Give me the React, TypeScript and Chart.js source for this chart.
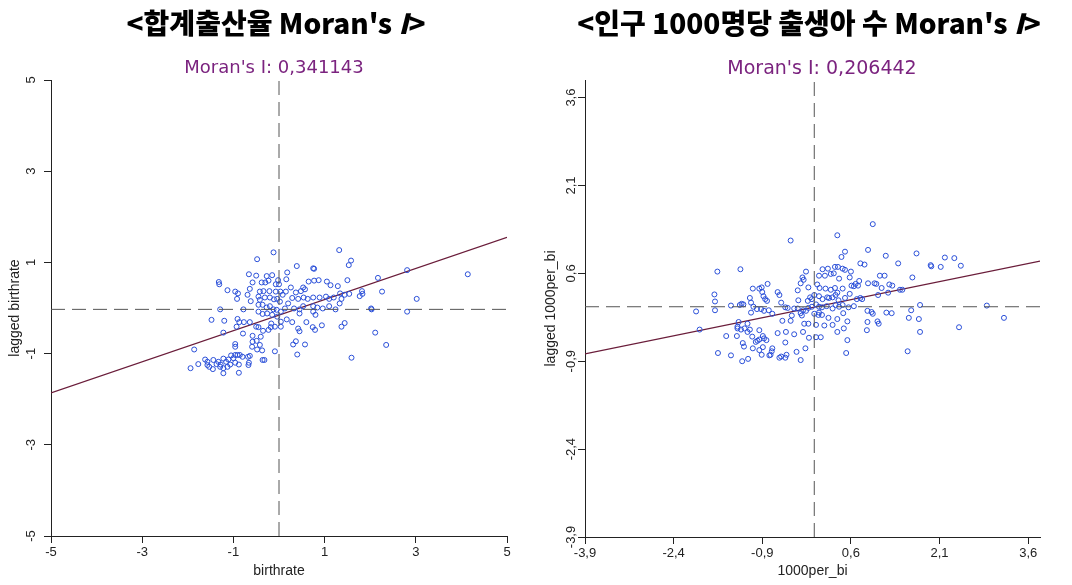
import React, { useEffect, useRef } from "react";
import { Chart, registerables } from "chart.js";
Chart.register(...registerables);

// ---------- Left panel: 합계출산율 ----------
const LEFT_TITLE = "<합계출산율 ";
const LEFT_MORAN = "Moran's I: 0,341143";
const LEFT_XLABEL = "birthrate";
const LEFT_YLABEL = "lagged birthrate";
const LEFT_TICKS = [-5, -3, -1, 1, 3, 5];
const LEFT_RANGE = [-5, 5];
const LEFT_X = [
  -0.12, 1.32, -0.48, 1.58, 1.53, 0.39, 0.75, 0.77, 0.18, -0.66,
  -0.5, -0.27, -0.15, 2.81, 4.14, 2.17, 0.16, -1.32, -1.31, -1.13,
  -0.96, -0.9, -0.64, -0.58, -0.38, -0.3, -0.23, -0.02, -0.07, 0.0,
  0.65, 0.77, 0.87, 1.05, 1.13, 1.29, 1.5, 0.53, 0.57, 0.48,
  0.37, 0.26, -0.42, -0.34, -0.21, -0.07, 0.03, 0.08, 0.15, -0.69,
  -0.62, -0.92, -0.45, -0.42, -0.31, -0.2, -0.11, -0.04, 0.02, 0.2,
  0.29, 0.42, 0.54, 0.63, 0.75, 0.89, 1.03, 1.1, 1.2, 1.34,
  1.37, 1.44, 1.54, 1.77, 1.82, 1.83, 2.26, 3.02, -1.29, -0.78,
  -0.45, -0.36, -0.27, -0.2, -0.12, -0.05, 0.04, 0.13, 0.33, 0.45,
  0.53, 0.75, 0.84, 0.96, 1.1, 1.24, 1.33, 2.02, 2.03, 2.81,
  -0.45, -0.36, -0.26, -0.15, -0.04, 0.45, 0.75, 0.8, -1.48, -1.2,
  -0.91, -0.87, -0.77, -0.64, -0.5, -0.45, -0.93, -1.22, -0.79, -0.58,
  -0.4, -0.35, -0.23, -0.18, -0.09, 0.04, 0.04, -0.17, 0.17, 0.29,
  0.42, 0.45, 0.6, 0.74, 0.79, 0.94, 1.37, 1.44, 2.11, 2.35,
  1.59, 0.4, 0.57, 0.37, 0.31, -0.09, -0.32, -0.36, -0.48, -0.37,
  -0.58, -0.49, -0.42, -0.96, -0.96, -1.86, -1.94, -1.77, -1.62, -1.57,
  -1.53, -1.45, -1.57, -1.37, -1.28, -1.22, -1.22, -1.16, -1.11, -1.05,
  -1.0, -0.96, -0.91, -0.86, -0.8, -0.68, -0.64, -0.66, -0.67, -0.88,
  -0.88, -0.96, -1.07, -1.13, -1.29, -1.33, -1.22, -1.44, -0.59,
];
const LEFT_Y = [
  1.22, 1.27, 1.07, 1.04, 0.94, 0.92, 0.87, 0.86, 0.78, 0.74,
  0.71, 0.7, 0.72, 0.83, 0.74, 0.66, 0.63, 0.57, 0.52, 0.39,
  0.36, 0.32, 0.42, 0.56, 0.56, 0.56, 0.6, 0.61, 0.52, 0.52,
  0.58, 0.6, 0.61, 0.58, 0.5, 0.48, 0.61, 0.45, 0.41, 0.37,
  0.34, 0.45, 0.36, 0.37, 0.37, 0.36, 0.36, 0.29, 0.36, 0.29,
  0.15, 0.2, 0.25, 0.18, 0.23, 0.23, 0.19, 0.2, 0.14, 0.1,
  0.22, 0.2, 0.23, 0.2, 0.23, 0.23, 0.25, 0.2, 0.23, 0.32,
  0.2, 0.29, 0.31, 0.26, 0.37, 0.31, 0.36, 0.2, -0.03, -0.03,
  0.07, 0.07, 0.01, 0.04, -0.03, -0.04, -0.08, -0.01, -0.01, -0.03,
  0.04, 0.04, 0.01, -0.01, 0.04, -0.03, 0.1, -0.01, -0.03, -0.08,
  -0.08, -0.13, -0.12, -0.15, -0.19, -0.12, -0.08, -0.15, -0.26, -0.28,
  -0.24, -0.31, -0.31, -0.31, -0.41, -0.42, -0.41, -0.54, -0.56, -0.61,
  -0.63, -0.5, -0.48, -0.42, -0.41, -0.41, -0.3, -0.34, -0.25, -0.31,
  -0.45, -0.51, -0.31, -0.42, -0.48, -0.38, -0.41, -0.33, -0.54, -0.81,
  -1.09, -1.02, -0.8, -0.73, -0.8, -0.95, -1.14, -1.14, -0.91, -0.93,
  -0.74, -0.72, -0.81, -0.79, -0.85, -0.91, -1.32, -1.23, -1.13, -1.18,
  -1.29, -1.34, -1.25, -1.23, -1.24, -1.32, -1.43, -1.18, -1.13, -1.04,
  -1.1, -1.03, -1.03, -1.03, -1.07, -1.07, -1.05, -1.2, -1.25, -1.42,
  -1.24, -1.2, -1.24, -1.29, -1.29, -1.18, -1.11, -1.14, -0.85,
];
const LEFT_REG = [{ x: -5, y: -1.86 }, { x: 5, y: 1.55 }];
const LEFT_VLINE_X = 0;
const LEFT_HLINE_Y = -0.03;

// ---------- Right panel: 인구 1000명당 출생아 수 ----------
const RIGHT_TITLE = "<인구 1000명당 출생아 수 ";
const RIGHT_MORAN = "Moran's I: 0,206442";
const RIGHT_XLABEL = "1000per_bi";
const RIGHT_YLABEL = "lagged 1000per_bi";
const RIGHT_TICKS = [-3.9, -2.4, -0.9, 0.6, 2.1, 3.6];
const RIGHT_XRANGE = [-3.9, 3.8];
const RIGHT_YRANGE = [-3.9, 3.9];
const RIGHT_X = [
  0.97, 0.37, -0.42, 0.5, 0.89, 1.71, 1.19, 0.44, 2.19, 2.35,
  -1.66, -1.27, 0.76, 0.83, 1.4, 1.95, 1.96, 2.12, 2.46, -0.16,
  -0.22, -0.2, -0.25, 0.12, 0.21, 0.33, 0.38, 0.46, 0.5, 0.6,
  0.06, 0.16, 0.26, 0.31, 0.4, 0.58, 1.64, 1.09, 1.17, 0.74,
  0.68, 0.61, 0.65, 0.72, 0.89, 1.0, 1.03, 1.12, 1.25, 1.3,
  1.43, 1.47, -0.81, -1.06, -0.95, -0.91, -0.9, -0.88, -0.85, -0.82,
  -0.64, -0.61, -0.3, -0.12, 0.03, 0.07, 0.17, 0.26, 0.33, 0.37,
  0.46, -0.02,
  -0.09, -0.06, -0.13, 0.06, 0.12, 0.2, 0.23,
  0.29, 0.34, 0.39, 0.58, 0.5, 0.7, 0.76, 0.79, 1.06, 1.23,
  -1.71, -1.7, -1.7, -2.02, -1.43, -1.28, -1.25, -1.22, -1.11, -1.09,
  -1.05, -0.99, -0.92, -0.87, -0.79, -0.73, -0.58, -0.51, -0.47, -0.36,
  -0.29, -0.3, -0.21, -0.16, -0.12, -0.06, 0.01, 0.06, 0.11, 0.19,
  0.29, 0.34, 0.4, 0.46, 0.56, 0.65, 1.77, 2.9, 3.19, 1.62,
  0.88, 0.95, 0.97, 1.2, 1.29, 1.58, 1.75, 1.77, 2.43, -1.09,
  -0.4, -0.25, -0.23, -0.02, 0.05, 0.11, 0.06, 0.22, 0.37, 0.47,
  -0.42, -0.56, -0.19, -0.12, 0.01, 0.15, 0.29, 0.37, 0.48, 0.54,
  0.88, 1.05, 1.07, 0.87, -1.96, -1.3, -1.32, -1.32, -1.26, -1.2,
  -1.15, -1.11, -1.15, -1.33, -1.51, -0.95, -0.89, -0.87, -1.07, -1.01,
  -0.98, -0.95, -0.83, -0.64, -0.5, -0.36, -0.21, -0.11, 0.01, 0.09,
  0.54, -1.23, -1.21, -1.06, -0.89, -0.73, -0.74, -0.76, -0.78, -0.91,
  -0.95, -0.51, -0.51, -0.61, -0.58, -0.49, -0.32, -0.17, -0.25, 0.52,
  1.56, -1.65, -1.43, -1.24, -1.14,
];
const RIGHT_Y = [
  1.44, 1.25, 1.16, 0.97, 1.0, 0.94, 0.9, 0.88, 0.87, 0.86,
  0.63, 0.67, 0.77, 0.75, 0.77, 0.74, 0.72, 0.71, 0.73, 0.63,
  0.53, 0.49, 0.43, 0.67, 0.68, 0.71, 0.71, 0.68, 0.66, 0.63,
  0.56, 0.56, 0.59, 0.6, 0.51, 0.53, 0.53, 0.56, 0.56, 0.47,
  0.42, 0.39, 0.38, 0.39, 0.43, 0.43, 0.42, 0.35, 0.41, 0.39,
  0.32, 0.32, 0.42, 0.34, 0.34, 0.36, 0.28, 0.21, 0.16, 0.13,
  0.28, 0.23, 0.31, 0.36, 0.41, 0.35, 0.34, 0.32, 0.35, 0.27,
  0.34, 0.23,
  0.19, 0.16, 0.13, 0.21, 0.16, 0.19, 0.18,
  0.19, 0.23, 0.14, 0.25, 0.18, 0.16, 0.18, 0.16, 0.23, 0.27,
  0.24, 0.12, -0.03, -0.05, 0.05, 0.06, 0.08, 0.07, 0.18, 0.1,
  0.03, -0.01, -0.01, -0.04, -0.03, -0.09, 0.1, 0.02, 0.01, 0.0,
  0.14, 0.0, -0.03, -0.04, 0.01, 0.03, 0.07, 0.03, 0.02, 0.04,
  0.0, 0.06, 0.03, 0.06, 0.02, 0.04, 0.06, 0.05, -0.16, -0.03,
  -0.04, -0.06, -0.09, -0.07, -0.08, -0.16, -0.18, -0.4, -0.32, -0.07,
  -0.12, -0.08, -0.12, -0.09, -0.11, -0.11, -0.07, -0.16, -0.18, -0.08,
  -0.21, -0.21, -0.26, -0.26, -0.28, -0.29, -0.28, -0.4, -0.34, -0.22,
  -0.23, -0.22, -0.26, -0.37, -0.36, -0.23, -0.31, -0.34, -0.36, -0.34,
  -0.26, -0.36, -0.4, -0.47, -0.47, -0.37, -0.47, -0.51, -0.48, -0.57,
  -0.55, -0.53, -0.54, -0.42, -0.4, -0.44, -0.4, -0.5, -0.49, -0.49,
  -0.54, -0.59, -0.65, -0.68, -0.66, -0.68, -0.73, -0.79, -0.8, -0.79,
  -0.71, -0.58, -0.84, -0.84, -0.82, -0.79, -0.74, -0.68, -0.88, -0.76,
  -0.73, -0.76, -0.8, -0.9, -0.86,
];
const RIGHT_REG = [{ x: -3.9, y: -0.775 }, { x: 3.8, y: 0.81 }];
const RIGHT_VLINE_X = -0.02;
const RIGHT_HLINE_Y = 0.03;

const FONT = "'Liberation Sans', Arial, Helvetica, sans-serif";
const MORAN_FONT = "'DejaVu Sans', Verdana, sans-serif";
const AXIS_COLOR = "#222";
const POINT_COLOR = "#2a4fd8";
const REG_COLOR = "#6a1d3a";
const DASH_COLOR = "#555";

type PanelCfg = {
  xs: number[];
  ys: number[];
  reg: { x: number; y: number }[];
  vx: number;
  hy: number;
  xr: number[];
  yr: number[];
  ticks: number[];
  xlabel: string;
  ylabel: string;
  padTop: number;
  padRight: number;
  yAxisW: number;
  xAxisH: number;
  yTickPad: number;
};

const fmt = (v: number) => String(v).replace(".", ",");

function buildConfig(c: PanelCfg): any {
  const pts = c.xs.map((x, i) => ({ x, y: c.ys[i] }));
  return {
    type: "scatter",
    data: {
      datasets: [
        {
          type: "line",
          data: [{ x: c.vx, y: c.yr[0] }, { x: c.vx, y: c.yr[1] }],
          borderColor: DASH_COLOR,
          borderWidth: 1,
          borderDash: [14, 7],
          pointRadius: 0,
          fill: false,
        },
        {
          type: "line",
          data: [{ x: c.xr[0], y: c.hy }, { x: c.xr[1], y: c.hy }],
          borderColor: DASH_COLOR,
          borderWidth: 1,
          borderDash: [14, 7],
          pointRadius: 0,
          fill: false,
        },
        {
          type: "scatter",
          data: pts,
          pointStyle: "circle",
          pointRadius: 2.5,
          borderWidth: 1,
          borderColor: POINT_COLOR,
          backgroundColor: "rgba(0,0,0,0)",
        },
        {
          type: "line",
          data: c.reg,
          borderColor: REG_COLOR,
          borderWidth: 1.2,
          pointRadius: 0,
          fill: false,
        },
      ],
    },
    options: {
      animation: false,
      responsive: false,
      maintainAspectRatio: false,
      events: [],
      layout: { padding: { top: c.padTop, right: c.padRight, left: 0, bottom: 0 } },
      plugins: { legend: { display: false }, tooltip: { enabled: false }, title: { display: false } },
      scales: {
        x: {
          type: "linear",
          min: c.xr[0],
          max: c.xr[1],
          afterBuildTicks: (s: any) => {
            s.ticks = c.ticks.map((v) => ({ value: v }));
          },
          afterFit: (s: any) => {
            s.height = c.xAxisH;
          },
          grid: { display: true, drawOnChartArea: false, drawTicks: true, tickLength: 7, color: AXIS_COLOR },
          border: { display: true, color: AXIS_COLOR, width: 1 },
          ticks: {
            autoSkip: false,
            maxRotation: 0,
            minRotation: 0,
            padding: 2,
            color: AXIS_COLOR,
            font: { family: FONT, size: 13 },
            callback: (v: number) => fmt(v),
          },
          title: {
            display: true,
            text: c.xlabel,
            color: AXIS_COLOR,
            font: { family: FONT, size: 14 },
            padding: { top: 0, bottom: 5 },
          },
        },
        y: {
          type: "linear",
          min: c.yr[0],
          max: c.yr[1],
          afterBuildTicks: (s: any) => {
            s.ticks = c.ticks.map((v) => ({ value: v }));
          },
          afterFit: (s: any) => {
            s.width = c.yAxisW;
          },
          grid: { display: true, drawOnChartArea: false, drawTicks: true, tickLength: 7, color: AXIS_COLOR },
          border: { display: true, color: AXIS_COLOR, width: 1 },
          ticks: {
            autoSkip: false,
            minRotation: 90,
            maxRotation: 90,
            crossAlign: "center",
            padding: c.yTickPad,
            color: AXIS_COLOR,
            font: { family: FONT, size: 13 },
            callback: (v: number) => fmt(v),
          },
          title: {
            display: true,
            text: c.ylabel,
            color: AXIS_COLOR,
            font: { family: FONT, size: 14 },
            padding: { top: 7, bottom: 0 },
          },
        },
      },
    },
  };
}

function Panel({ cfg, left }: { cfg: PanelCfg; left: number }) {
  const ref = useRef<HTMLCanvasElement | null>(null);
  useEffect(() => {
    if (!ref.current) return;
    const chart = new Chart(ref.current, buildConfig(cfg));
    return () => chart.destroy();
  }, []);
  return (
    <canvas
      ref={ref}
      width={536}
      height={585}
      style={{ position: "absolute", left, top: 0, width: 536, height: 585, display: "block" }}
    />
  );
}

const leftCfg: PanelCfg = {
  xs: LEFT_X,
  ys: LEFT_Y,
  reg: LEFT_REG,
  vx: LEFT_VLINE_X,
  hy: LEFT_HLINE_Y,
  xr: LEFT_RANGE,
  yr: LEFT_RANGE,
  ticks: LEFT_TICKS,
  xlabel: LEFT_XLABEL,
  ylabel: LEFT_YLABEL,
  padTop: 80,
  padRight: 29,
  yAxisW: 51,
  xAxisH: 49,
  yTickPad: 7,
};

const rightCfg: PanelCfg = {
  xs: RIGHT_X,
  ys: RIGHT_Y,
  reg: RIGHT_REG,
  vx: RIGHT_VLINE_X,
  hy: RIGHT_HLINE_Y,
  xr: RIGHT_XRANGE,
  yr: RIGHT_YRANGE,
  ticks: RIGHT_TICKS,
  xlabel: RIGHT_XLABEL,
  ylabel: RIGHT_YLABEL,
  padTop: 80,
  padRight: 32,
  yAxisW: 49,
  xAxisH: 48,
  yTickPad: -5,
};

const bigTitle: React.CSSProperties = {
  position: "absolute",
  top: 2,
  width: 640,
  textAlign: "center",
  fontFamily: "'Noto Sans CJK KR', 'Noto Sans', sans-serif",
  fontWeight: 900,
  fontSize: 28,
  lineHeight: "40px",
  color: "#000",
  whiteSpace: "nowrap",
};

const moranStyle: React.CSSProperties = {
  position: "absolute",
  top: 55,
  width: 300,
  textAlign: "center",
  fontFamily: MORAN_FONT,
  fontSize: 18,
  lineHeight: "24px",
  color: "#7b237f",
  whiteSpace: "nowrap",
};

export default function App() {
  return (
    <div style={{ position: "fixed", left: 0, top: 0, width: 1072, height: 585, background: "#fff", overflow: "hidden" }}>
      <Panel cfg={leftCfg} left={0} />
      <Panel cfg={rightCfg} left={536} />
      <div style={{ ...bigTitle, left: 276 - 320 }}>
        {LEFT_TITLE}Moran's <i>I</i>&gt;
      </div>
      <div style={{ ...bigTitle, left: 809 - 320 }}>
        {RIGHT_TITLE}Moran's <i>I</i>&gt;
      </div>
      <div style={{ ...moranStyle, left: 274 - 150 }}>{LEFT_MORAN}</div>
      <div style={{ ...moranStyle, left: 822 - 150, fontSize: 19 }}>{RIGHT_MORAN}</div>
    </div>
  );
}
